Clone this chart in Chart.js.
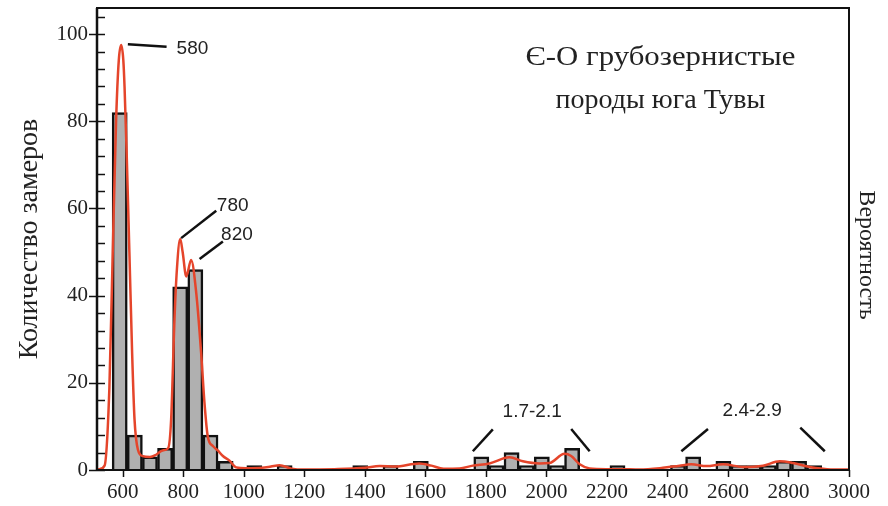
<!DOCTYPE html>
<html>
<head>
<meta charset="utf-8">
<script src="https://cdn.jsdelivr.net/npm/chart.js@4"></script>
<style>
  html, body { margin: 0; padding: 0; background: #fff; }
  #wrap { width: 888px; height: 506px; }
</style>
</head>
<body>
<div id="wrap"><canvas id="hist"></canvas></div>
<script>
// histogram bins (centres, Ma) and counts
const binCenters = [590, 640, 690, 740, 790, 840, 890, 940, 1035, 1085, 1135, 1185, 1235, 1285, 1335,
  1385, 1435, 1485, 1535, 1585, 1635, 1685, 1735, 1785, 1835, 1885, 1935, 1985, 2035, 2085, 2135,
  2185, 2235, 2285, 2335, 2385, 2435, 2485, 2535, 2585, 2635, 2685, 2735, 2785, 2835, 2885, 2935];
const binCounts = [82, 8, 3, 5, 42, 46, 8, 2, 1, 0, 1, 0, 0, 0, 0,
  1, 0, 1, 0, 2, 0, 0, 0, 3, 1, 4, 1, 3, 1, 5, 0,
  0, 1, 0, 0, 0, 1, 3, 0, 2, 1, 1, 1, 2, 2, 1, 0];

// probability density curve (same vertical scale as counts)
const kdeX = [515, 523, 540, 556, 567, 578, 587, 595, 602, 606, 613, 622, 631, 639, 650, 666, 690, 710, 732, 750,
  760, 771, 779, 790, 798, 810, 826, 843, 859, 870, 881, 898, 914, 931, 952, 975, 1008, 1060, 1090, 1118,
  1158, 1200, 1300, 1400, 1449, 1500, 1580, 1620, 1660, 1713, 1757, 1812, 1878, 1922, 1977, 2010, 2060, 2082, 2110, 2143,
  2198, 2242, 2308, 2385, 2440, 2479, 2529, 2584, 2650, 2716, 2771, 2815, 2870, 2914, 2958, 3000];
const kdeY = [0.1, 0.2, 1, 19, 50, 80, 94, 97.5, 94, 88, 72.7, 50, 27, 11.6, 4.7, 3.2, 3, 3.5, 4.5, 5,
  11.6, 34.5, 46, 53, 50, 44.4, 48.2, 40.6, 27, 15.5, 7.7, 5.5, 4.5, 3.2, 2.2, 0.6, 0.4, 0.5, 0.8, 1.1,
  0.3, 0.1, 0.2, 0.5, 0.9, 0.8, 1.5, 1.0, 0.3, 0.35, 1.0, 1.5, 2.9, 2.0, 1.5, 1.6, 3.7, 3.2, 1.3, 0.35,
  0.2, 0.2, 0.1, 0.5, 1.0, 1.3, 0.9, 1.3, 0.7, 1.0, 2.0, 1.6, 0.7, 0.3, 0.1, 0.1];

const xTicks = [600, 800, 1000, 1200, 1400, 1600, 1800, 2000, 2200, 2400, 2600, 2800, 3000];
const yTicks = [0, 20, 40, 60, 80, 100];

const titleLines = ['Є-О грубозернистые', 'породы юга Тувы'];
const rightTitle = 'Вероятность';

// peak labels: text, label anchor, leader lines (all in data units)
const notes = [
  { text: '580', at: [778, 96.7], align: 'left', lines: [[617, 97.7, 745, 97.1]] },
  { text: '780', at: [911, 60.6], align: 'left', lines: [[793, 53.2, 909, 59.5]] },
  { text: '820', at: [925, 54.0], align: 'left', lines: [[854, 48.4, 931, 52.4]] },
  { text: '1.7-2.1', at: [1953, 13.3], align: 'center', lines: [[1757, 4.3, 1823, 9.3], [2082, 9.4, 2143, 4.3]] },
  { text: '2.4-2.9', at: [2680, 13.7], align: 'center', lines: [[2446, 4.3, 2534, 9.4], [2839, 9.7, 2920, 4.3]] }
];

const serif = '"Liberation Serif", "Times New Roman", serif';

const decor = {
  id: 'decor',
  afterDatasetsDraw(chart) {
    const { ctx, chartArea: a, scales: { x, y } } = chart;
    ctx.save();
    ctx.strokeStyle = '#111';
    ctx.fillStyle = '#222';

    // frame
    ctx.lineWidth = 2;
    ctx.strokeRect(a.left, a.top, a.right - a.left, a.bottom - a.top);
    ctx.lineWidth = 2.5;
    ctx.beginPath();
    ctx.moveTo(a.left, a.top);
    ctx.lineTo(a.left, a.bottom);
    ctx.stroke();

    // y ticks: majors cross the axis, minors inside
    ctx.lineWidth = 1.5;
    for (let v = 0; v <= 104; v += 4) {
      const py = Math.round(y.getPixelForValue(v)) + 0.5;
      const major = yTicks.includes(v);
      ctx.beginPath();
      ctx.moveTo(major ? a.left - 8 : a.left, py);
      ctx.lineTo(a.left + 8, py);
      ctx.stroke();
    }
    // x ticks, downward
    xTicks.forEach(v => {
      const px = Math.round(x.getPixelForValue(v)) + 0.5;
      ctx.beginPath();
      ctx.moveTo(px, a.bottom);
      ctx.lineTo(px, a.bottom + 7);
      ctx.stroke();
    });

    // peak labels
    ctx.lineWidth = 2.5;
    ctx.font = '19px "Liberation Sans", Arial, sans-serif';
    ctx.textBaseline = 'middle';
    notes.forEach(n => {
      n.lines.forEach(l => {
        ctx.beginPath();
        ctx.moveTo(x.getPixelForValue(l[0]), y.getPixelForValue(l[1]));
        ctx.lineTo(x.getPixelForValue(l[2]), y.getPixelForValue(l[3]));
        ctx.stroke();
      });
      ctx.textAlign = n.align;
      ctx.fillText(n.text, x.getPixelForValue(n.at[0]), y.getPixelForValue(n.at[1]));
    });

    // caption in the upper right
    ctx.font = '28px ' + serif;
    ctx.textAlign = 'center';
    const cx = x.getPixelForValue(2377);
    ctx.save();
    ctx.translate(cx, y.getPixelForValue(94.7));
    ctx.scale(1.1, 1);
    ctx.fillText(titleLines[0], 0, 0);
    ctx.restore();
    ctx.fillText(titleLines[1], cx, y.getPixelForValue(84.8));

    // right-hand axis title, reading downward
    ctx.font = '24px ' + serif;
    ctx.translate(a.right + 17, 255);
    ctx.rotate(Math.PI / 2);
    ctx.fillText(rightTitle, 0, 0);
    ctx.restore();
  }
};

new Chart(document.getElementById('hist'), {
  data: {
    datasets: [
      {
        type: 'line',
        label: 'Вероятность',
        data: kdeX.map((v, i) => ({ x: v, y: kdeY[i] })),
        borderColor: '#e5452b',
        borderWidth: 2.5,
        pointRadius: 0,
        cubicInterpolationMode: 'monotone',
        order: 0
      },
      {
        type: 'bar',
        label: 'Количество замеров',
        data: binCenters.map((v, i) => ({ x: v, y: binCounts[i] })),
        backgroundColor: '#b0b0b0',
        borderColor: '#111',
        borderWidth: 2.5,
        barPercentage: 1,
        categoryPercentage: 1,
        order: 1
      }
    ]
  },
  options: {
    responsive: true,
    maintainAspectRatio: false,
    animation: false,
    layout: { padding: { top: 8, left: 0, right: 39, bottom: 0 } },
    plugins: { legend: { display: false }, tooltip: { enabled: false } },
    scales: {
      x: {
        type: 'linear',
        offset: false,
        min: 515,
        max: 3000,
        afterBuildTicks: axis => { axis.ticks = xTicks.map(v => ({ value: v })); },
        afterFit: axis => { axis.height = 36; axis.paddingLeft = 0; axis.paddingRight = 0; },
        grid: { display: false, drawTicks: false },
        border: { display: false },
        ticks: { padding: 10, color: '#222', maxRotation: 0, callback: v => String(v), font: { family: serif, size: 21 } }
      },
      y: {
        position: 'left',
        min: 0,
        max: 106,
        afterBuildTicks: axis => { axis.ticks = yTicks.map(v => ({ value: v })); },
        afterFit: axis => { axis.width = 97; axis.paddingTop = 0; axis.paddingBottom = 0; },
        grid: { display: false, drawTicks: false },
        border: { display: false },
        ticks: { padding: 9, color: '#222', font: { family: serif, size: 21 } },
        title: { display: true, text: 'Количество замеров', color: '#222', padding: { top: 13, bottom: 0 }, font: { family: serif, size: 28 } }
      }
    }
  },
  plugins: [decor]
});
</script>
</body>
</html>
